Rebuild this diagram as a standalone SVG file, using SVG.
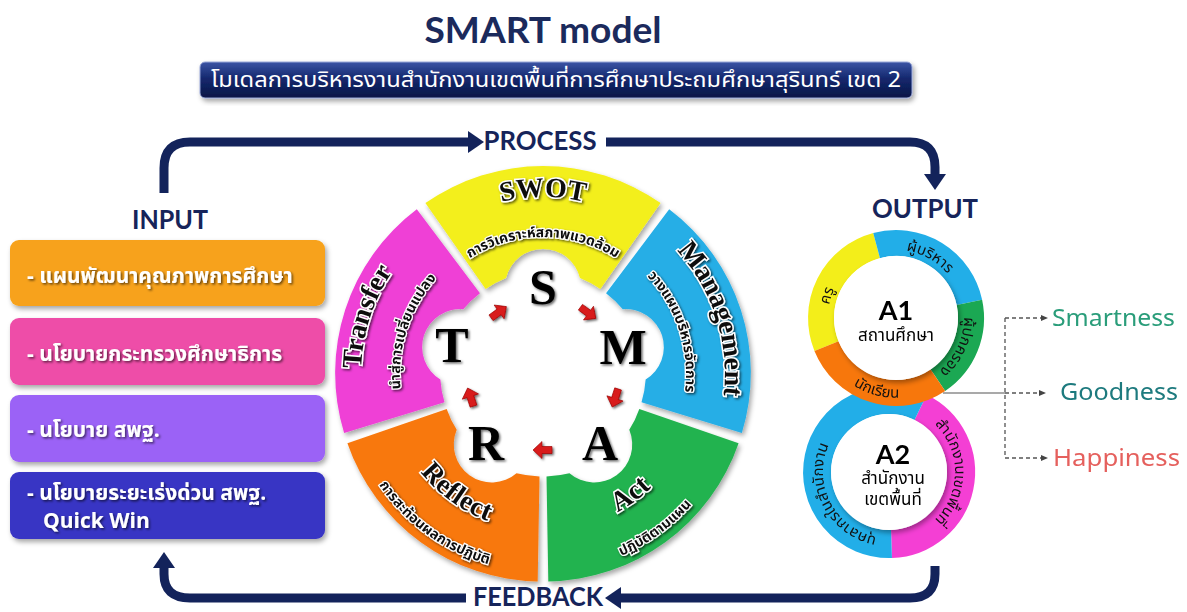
<svg xmlns="http://www.w3.org/2000/svg" width="1187" height="612" viewBox="0 0 1187 612">
<defs>
<style>
.ttl{font-family:Lato,"Liberation Sans",sans-serif;font-weight:700;fill:#1b2a5c}
.lbl{font-family:Lato,"Liberation Sans",sans-serif;font-weight:700;fill:#16245a;font-size:26px;text-anchor:middle}
.th{font-family:"Noto Sans Thai","Noto Sans","Liberation Sans",sans-serif}
.inp{font-size:21px;font-weight:700;fill:#fff}
.st{font-family:"Liberation Serif",serif;font-weight:700;font-size:28px;fill:#111;stroke:#fff;stroke-width:3;paint-order:stroke}
.ss{font-weight:700;font-size:14px;fill:#111;stroke:#fff;stroke-width:2.5;paint-order:stroke}
.big{font-family:"Liberation Serif",serif;font-weight:700;font-size:50px;fill:#000;text-anchor:middle}
.rt{font-size:15px;fill:#111}
.ct{text-anchor:middle;fill:#000}
.res{font-family:"Noto Sans","Liberation Sans",sans-serif;font-size:23px}
.flow{fill:none;stroke:#13235b;stroke-width:9}
.dash{fill:none;stroke:#555;stroke-width:1.3;stroke-dasharray:4 3}
</style>
<filter id="sh" x="-10%" y="-10%" width="130%" height="130%"><feDropShadow dx="2" dy="3" stdDeviation="2.5" flood-color="#000" flood-opacity="0.35"/></filter>
<filter id="ts" x="-5%" y="-20%" width="110%" height="150%"><feDropShadow dx="1.5" dy="1.5" stdDeviation="1" flood-color="#000" flood-opacity="0.6"/></filter>
<linearGradient id="bn" x1="0" y1="0" x2="0" y2="1"><stop offset="0" stop-color="#3c55a5"/><stop offset="0.45" stop-color="#14286e"/><stop offset="1" stop-color="#0a1646"/></linearGradient>
<marker id="ah" markerUnits="userSpaceOnUse" markerWidth="20" markerHeight="22" refX="2" refY="11" orient="auto"><path d="M0,0 L16,11 L0,22 Z" fill="#13235b"/></marker>
<marker id="sa" markerUnits="userSpaceOnUse" markerWidth="8" markerHeight="8" refX="1" refY="4" orient="auto"><path d="M0,1 L7,4 L0,7 Z" fill="#444"/></marker>
<path id="seg" d="M-117.6,-167.9 A205,205 0 0 1 117.6,-167.9 L57.36,-81.92 A100,100 0 0 0 36.97,-92.91 A38,38 0 0 0 -36.97,-92.91 A100,100 0 0 0 -57.36,-81.92 Z"/>
<path id="rarr" d="M-9,-3.5 L1,-3.5 L1,-8.5 L10,0 L1,8.5 L1,3.5 L-9,3.5 Z"/>
<path id="pSwT" d="M429.2,238.4 A177,177 0 0 1 656.8,238.4"/>
<path id="pSwS" d="M454.9,269.1 A137,137 0 0 1 631.1,269.1"/>
<path id="pMaT" d="M639.4,219.7 A182,182 0 0 1 711.7,442.2"/>
<path id="pMaS" d="M618.8,252.7 A143,143 0 0 1 675.6,427.6"/>
<path id="pTrT" d="M374.3,442.2 A182,182 0 0 1 446.6,219.7"/>
<path id="pTrS" d="M410.4,427.6 A143,143 0 0 1 467.2,252.7"/>
<path id="pReT" d="M390.7,412.0 A157,157 0 0 0 554.0,530.6"/>
<path id="pReS" d="M350.9,421.9 A198,198 0 0 0 556.8,571.5"/>
<path id="pAcT" d="M532.0,530.6 A157,157 0 0 0 695.3,412.0"/>
<path id="pAcS" d="M529.2,571.5 A198,198 0 0 0 735.1,421.9"/>
<path id="pA1y" d="M829.0,329.8 A68,68 0 0 1 848.8,269.1"/>
<path id="pA1b" d="M884.2,251.0 A68,68 0 0 1 959.0,292.5"/>
<path id="pA1g" d="M963.3,308.5 A68,68 0 0 1 932.0,375.7"/>
<path id="pA1o" d="M830.5,363.9 A81,81 0 0 0 929.8,390.5"/>
<path id="pA2p" d="M926.9,417.9 A66,66 0 0 1 926.9,526.1"/>
<path id="pA2b" d="M894.8,537.7 A66,66 0 0 1 838.4,429.6"/>
</defs>

<rect width="1187" height="612" fill="#fff"/>

<g id="title">
<text class="ttl" x="543" y="43" font-size="36" text-anchor="middle" textLength="237" lengthAdjust="spacingAndGlyphs">SMART model</text>
</g>
<g id="banner">
<rect x="200" y="62" width="712" height="36" rx="5" fill="url(#bn)" stroke="#9aa8d8" stroke-width="1" filter="url(#sh)"/>
<text class="th" x="556" y="87" font-size="21" fill="#fff" text-anchor="middle" textLength="690" lengthAdjust="spacingAndGlyphs">โมเดลการบริหารงานสำนักงานเขตพื้นที่การศึกษาประถมศึกษาสุรินทร์ เขต 2</text>
</g>

<g id="connectors">
<path class="flow" d="M164,193 V168 Q164,142 190,142 H470" marker-end="url(#ah)"/>
<path class="flow" d="M606,142 H910 Q935,142 935,167 V176" marker-end="url(#ah)"/>
<path class="flow" d="M935,566 V574 Q935,598 910,598 H619" marker-end="url(#ah)"/>
<path class="flow" d="M466,598 H190 Q164,598 164,574 V566" marker-end="url(#ah)"/>
<path d="M943,393 H1005" fill="none" stroke="#555" stroke-width="1.2"/>
<path class="dash" d="M1005,393 H1040" marker-end="url(#sa)"/>
<path class="dash" d="M1005,318 V458"/>
<path class="dash" d="M1005,318 H1042" marker-end="url(#sa)"/>
<path class="dash" d="M1005,458 H1042" marker-end="url(#sa)"/>
</g>

<g id="labels">
<text class="lbl" x="540" y="150" textLength="113" lengthAdjust="spacingAndGlyphs">PROCESS</text>
<text class="lbl" x="170" y="229" textLength="76" lengthAdjust="spacingAndGlyphs">INPUT</text>
<text class="lbl" x="925" y="218" textLength="106" lengthAdjust="spacingAndGlyphs">OUTPUT</text>
<text class="lbl" x="538" y="606" font-size="25" textLength="130" lengthAdjust="spacingAndGlyphs">FEEDBACK</text>
</g>

<g id="input-1"><rect x="10" y="240" width="315" height="66" rx="9" fill="#f7a21b" filter="url(#sh)"/><text class="th inp" x="27" y="283" filter="url(#ts)">- แผนพัฒนาคุณภาพการศึกษา</text></g>
<g id="input-2"><rect x="10" y="318" width="315" height="67" rx="9" fill="#ee4ea8" filter="url(#sh)"/><text class="th inp" x="27" y="361" filter="url(#ts)">- นโยบายกระทรวงศึกษาธิการ</text></g>
<g id="input-3"><rect x="10" y="395" width="315" height="67" rx="9" fill="#9b62f6" filter="url(#sh)"/><text class="th inp" x="27" y="437" filter="url(#ts)">- นโยบาย สพฐ.</text></g>
<g id="input-4"><rect x="10" y="472" width="315" height="67" rx="9" fill="#3934c4" filter="url(#sh)"/><text class="th inp" x="27" y="500" filter="url(#ts)">- นโยบายระยะเร่งด่วน สพฐ.</text><text class="th inp" x="43" y="528" filter="url(#ts)">Quick Win</text></g>

<g id="wheel">
<g filter="url(#sh)">
<use id="seg-swot" href="#seg" fill="#f3ef1c" transform="translate(543,374) rotate(0) translate(0,-3)"/>
<use id="seg-management" href="#seg" fill="#27aee6" transform="translate(543,374) rotate(72) translate(0,-3)"/>
<use id="seg-act" href="#seg" fill="#22b34f" transform="translate(543,374) rotate(144) translate(0,-3)"/>
<use id="seg-reflect" href="#seg" fill="#f8780f" transform="translate(543,374) rotate(216) translate(0,-3)"/>
<use id="seg-transfer" href="#seg" fill="#ef3fd6" transform="translate(543,374) rotate(288) translate(0,-3)"/>
</g>
<g class="th" filter="url(#ts)">
<text class="st" font-size="30"><textPath href="#pSwT" startOffset="50%" text-anchor="middle">SWOT</textPath></text>
<text class="ss"><textPath href="#pSwS" startOffset="50%" text-anchor="middle">การวิเคราะห์สภาพแวดล้อม</textPath></text>
<text class="st"><textPath href="#pMaT" startOffset="50%" text-anchor="middle">Management</textPath></text>
<text class="ss"><textPath href="#pMaS" startOffset="50%" text-anchor="middle">วางแผนบริหารจัดการ</textPath></text>
<text class="st"><textPath href="#pTrT" startOffset="50%" text-anchor="middle">Transfer</textPath></text>
<text class="ss"><textPath href="#pTrS" startOffset="50%" text-anchor="middle">นำสู่การเปลี่ยนแปลง</textPath></text>
<text class="st"><textPath href="#pReT" startOffset="50%" text-anchor="middle">Reflect</textPath></text>
<text class="ss"><textPath href="#pReS" startOffset="50%" text-anchor="middle">การสะท้อนผลการปฏิบัติ</textPath></text>
<text class="st"><textPath href="#pAcT" startOffset="50%" text-anchor="middle">Act</textPath></text>
<text class="ss"><textPath href="#pAcS" startOffset="50%" text-anchor="middle">ปฏิบัติตามแผน</textPath></text>
</g>
<g filter="url(#ts)">
<text class="big" x="543" y="304">S</text>
<text class="big" x="623" y="364">M</text>
<text class="big" x="600" y="460">A</text>
<text class="big" x="486" y="460">R</text>
<text class="big" x="452" y="362">T</text>
</g>
<g fill="#d81a1a" stroke="#900" stroke-width="0.6" filter="url(#ts)">
<use href="#rarr" transform="translate(498.3,312.5) rotate(-36)"/>
<use href="#rarr" transform="translate(587.7,312.5) rotate(36)"/>
<use href="#rarr" transform="translate(615.3,397.5) rotate(108)"/>
<use href="#rarr" transform="translate(543,450) rotate(180)"/>
<use href="#rarr" transform="translate(470.7,397.5) rotate(252)"/>
</g>
</g>

<g id="a2">
<path d="M920.6,407.3 A72,72 0 0 1 891.5,544.0" fill="none" stroke="#f43fd4" stroke-width="28"/>
<path d="M891.5,544.0 A72,72 0 1 1 920.6,407.3" fill="none" stroke="#22aee8" stroke-width="28"/>
<circle cx="889" cy="472" r="58" fill="#fff" filter="url(#sh)"/>
<g class="th rt">
<text><textPath href="#pA2p" startOffset="50%" text-anchor="middle">สำนักงานเขตพื้นที่</textPath></text>
<text><textPath href="#pA2b" startOffset="50%" text-anchor="middle">บุคลากรในสำนักงาน</textPath></text>
</g>
<text class="ttl ct" x="893" y="464" font-size="27" style="fill:#000">A2</text>
<text class="th ct" x="893" y="484" font-size="17">สำนักงาน</text>
<text class="th ct" x="893" y="505" font-size="17">เขตพื้นที่</text>
</g>

<g id="a1">
<path d="M826.5,346.1 A75,75 0 0 1 876.6,245.6" fill="none" stroke="#f3ee1a" stroke-width="26"/>
<path d="M876.6,245.6 A75,75 0 0 1 969.4,302.4" fill="none" stroke="#22aee8" stroke-width="26"/>
<path d="M969.4,302.4 A75,75 0 0 1 937.9,380.2" fill="none" stroke="#1ba853" stroke-width="26"/>
<path d="M937.9,380.2 A75,75 0 0 1 826.5,346.1" fill="none" stroke="#f7770c" stroke-width="26"/>
<circle cx="896" cy="318" r="62" fill="#fff" filter="url(#sh)"/>
<g class="th rt">
<text><textPath href="#pA1y" startOffset="50%" text-anchor="middle">ครู</textPath></text>
<text><textPath href="#pA1b" startOffset="50%" text-anchor="middle">ผู้บริหาร</textPath></text>
<text><textPath href="#pA1g" startOffset="50%" text-anchor="middle">ผู้ปกครอง</textPath></text>
<text><textPath href="#pA1o" startOffset="50%" text-anchor="middle">นักเรียน</textPath></text>
</g>
<text class="ttl ct" x="896" y="320" font-size="27" style="fill:#000">A1</text>
<text class="th ct" x="896" y="341" font-size="17">สถานศึกษา</text>
</g>

<g id="results">
<text class="res" x="1052" y="326" fill="#2a9d7a" textLength="123" lengthAdjust="spacingAndGlyphs">Smartness</text>
<text class="res" x="1060" y="400" fill="#1d7a7e" textLength="118" lengthAdjust="spacingAndGlyphs">Goodness</text>
<text class="res" x="1053" y="466" fill="#e5605d" textLength="127" lengthAdjust="spacingAndGlyphs">Happiness</text>
</g>
</svg>
